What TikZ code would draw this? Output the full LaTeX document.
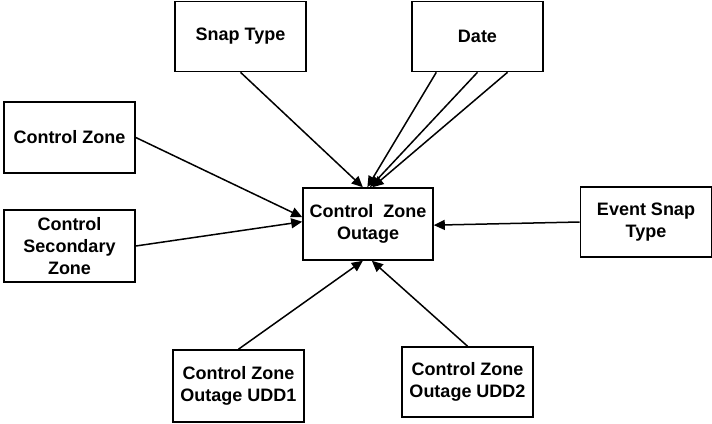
\documentclass[tikz,border=0pt]{standalone}
\usepackage{fontspec}
\setmainfont{Liberation Sans}
\usetikzlibrary{arrows.meta, positioning}

\begin{document}
\begin{tikzpicture}[x=1pt, y=-1pt,
        box/.style={draw, line width=1.6pt, minimum width=131pt, minimum height=70pt,
            inner sep=2pt, align=center, font=\fontsize{18}{22}\selectfont\bfseries}]
        \useasboundingbox (0,0) rectangle (712,423);

        \node (out) [box, minimum width=130pt, minimum height=72pt] at (368,224) {Control\ \ Zone\\Outage};
        \node (snap) [box] at (240.5,36.5) {Snap Type};
        \node (date) [box] at (477.5,36.5) {Date};
        \node (cz) [box, minimum height=71pt] at (69.5,137.5) {Control Zone};
        \node (csz) [box, minimum height=72pt] at (69.5,246) {Control\\Secondary\\Zone};
        \node (evt) [box] at (646,222) {Event Snap\\Type};
        \node (udd1) [box, minimum height=72pt] at (238.5,386) {Control Zone\\Outage UDD1};
        \node (udd2) [box] at (467.5,382) {Control Zone\\Outage UDD2};

        \path[-{Triangle[length=11pt, width=10pt]}, line width=1.5pt]
        (snap.south) edge (out.98)
        (date.221) edge (out.91)
        (date.270) edge (out.87)
        (date.310) edge (out.83)
        (cz.east) edge (out.174)
        (csz.east) edge (out.178)
        (evt.west) edge (out.-1)
        (udd1.north) edge (out.262)
        (udd2.north) edge (out.276);

    \end{tikzpicture}
\end{document}
